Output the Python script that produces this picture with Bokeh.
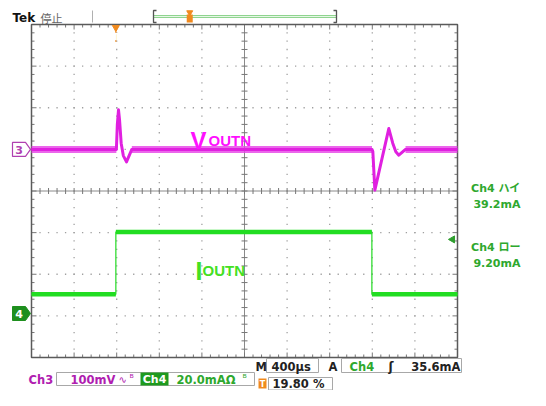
from bokeh.plotting import figure
from bokeh.models import Range1d
from bokeh.core.properties import value
from bokeh.embed import file_html
from bokeh.resources import INLINE

# ---------------- data ----------------
# Ch3 = V_OUTN : time in microseconds relative to trigger, value in mV
ch3_time_us = [-792, 5, 14, 25, 35, 50, 70, 100, 125, 150,
               2405, 2413, 2432, 2500, 2563, 2600, 2629, 2657, 2720, 3208]
ch3_mv = [0, 0, 60, 95, 70, 15, -15, -30, -15, 0,
          0, -5, -98, -21, 50, 15, -6, -14, 0, 0]
# Ch4 = I_OUTN : time in microseconds, value in mA
ch4_time_us = [-792, 0, 0, 2404, 2404, 3208]
ch4_ma = [9.2, 9.2, 39.2, 39.2, 9.2, 9.2]

trigger_level_ma = 35.6
trigger_pos_pct = 19.80

lbl_timebase = "400µs"
lbl_ch3_scale = "100mV"
lbl_ch4_scale = "20.0mA"
lbl_trig = "35.6mA"
lbl_trigpos = "19.80 %"
lbl_ch4_high = ["Ch4 ハイ", "39.2mA"]
lbl_ch4_low = ["Ch4 ロー", "9.20mA"]

# scope settings
T_DIV, T_LEFT = 400.0, -792.0          # µs/div, time at left edge
CH3_DIV, CH3_BOTTOM = 100.0, -500.0    # mV/div, value at bottom edge
CH4_DIV, CH4_BOTTOM = 20.0, -21.14     # mA/div, value at bottom edge

# ---------------- layout (canvas pixels) ----------------
W, H = 530, 390
GX0, GX1, GY0, GY1 = 31, 457, 24, 357
dx = (GX1 - GX0) / 10.0
dy = (GY1 - GY0) / 8.0
cx = (GX0 + GX1) / 2.0
cy = (GY0 + GY1) / 2.0

us_px = T_DIV / dx
mv_px = CH3_DIV / dy
ma_px = CH4_DIV / dy

p = figure(width=W, height=H, x_range=Range1d(0, W), y_range=Range1d(H, 0),
           output_backend="svg", toolbar_location=None,
           x_axis_location=None, y_axis_location=None, min_border=0)
p.outline_line_color = None
p.grid.visible = False
p.background_fill_color = "white"

p.extra_x_ranges = {"t": Range1d(T_LEFT - GX0 * us_px, T_LEFT + (W - GX0) * us_px)}
p.extra_y_ranges = {
    "ch3": Range1d(CH3_BOTTOM - (H - GY1) * mv_px, CH3_BOTTOM + GY1 * mv_px),
    "ch4": Range1d(CH4_BOTTOM - (H - GY1) * ma_px, CH4_BOTTOM + GY1 * ma_px),
}

FONT = value("DejaVu Sans, Noto Sans CJK JP")

# ---------------- graticule ----------------
gx, gy = [], []
for k in range(1, 10):
    if k == 5:
        continue
    for j in range(1, 40):
        gx.append(GX0 + k * dx)
        gy.append(GY0 + j * dy / 5)
for k in range(1, 8):
    if k == 4:
        continue
    for j in range(1, 50):
        gx.append(GX0 + j * dx / 5)
        gy.append(GY0 + k * dy)
p.rect(gx, gy, width=1.3, height=1.3, fill_color="#a0a0a0", line_color=None)

# center cross
p.segment([GX0, cx], [cy, GY0], [GX1, cx], [cy, GY1], line_color="#8a8a8a", line_width=1)
tx0, ty0, tx1, ty1 = [], [], [], []
for j in range(1, 50):
    x = GX0 + j * dx / 5
    L = 5 if j % 5 == 0 else 3
    tx0 += [x]; ty0 += [cy - 3]; tx1 += [x]; ty1 += [cy + 3]
    tx0 += [x, x]; ty0 += [GY0, GY1]; tx1 += [x, x]; ty1 += [GY0 + L, GY1 - L]
for j in range(1, 40):
    y = GY0 + j * dy / 5
    L = 5 if j % 5 == 0 else 3
    tx0 += [cx - 3]; ty0 += [y]; tx1 += [cx + 3]; ty1 += [y]
    tx0 += [GX0, GX1]; ty0 += [y, y]; tx1 += [GX0 + L, GX1 - L]; ty1 += [y, y]
p.segment(tx0, ty0, tx1, ty1, line_color="#777777", line_width=1)
p.quad(left=[GX0], right=[GX1], top=[GY0], bottom=[GY1], fill_color=None,
       line_color="#5a5a5a", line_width=1.5)

# ---------------- traces ----------------
b0x, b0y, b1x, b1y = [], [], [], []
for i in range(len(ch3_mv) - 1):
    if ch3_mv[i] == 0 and ch3_mv[i + 1] == 0:
        b0x.append(ch3_time_us[i]); b0y.append(ch3_mv[i])
        b1x.append(ch3_time_us[i + 1]); b1y.append(ch3_mv[i + 1])
p.segment(b0x, b0y, b1x, b1y, x_range_name="t", y_range_name="ch3",
          line_color="#e640e6", line_width=7, line_alpha=0.8)
p.line(ch3_time_us, ch3_mv, x_range_name="t", y_range_name="ch3",
       line_color="#e020e0", line_width=3, line_join="round")

p.line(ch4_time_us, ch4_ma, x_range_name="t", y_range_name="ch4",
       line_color="#33dd33", line_width=1.3)
p.segment(ch4_time_us[0::2], ch4_ma[0::2], ch4_time_us[1::2], ch4_ma[1::2],
          x_range_name="t", y_range_name="ch4", line_color="#22dd22", line_width=4.5)

# trace labels
p.text([190], [140], text=["V"], text_font=value("Liberation Sans"), text_font_style="bold",
       text_font_size="24px", text_color="#ff10ff", text_baseline="alphabetic")
p.text([208], [140], text=["OUTN"], text_font=value("Liberation Sans"), text_font_style="bold",
       text_font_size="15px", text_color="#ff10ff", text_baseline="alphabetic")
p.text([195], [270], text=["I"], text_font=value("Liberation Sans"), text_font_style="bold",
       text_font_size="25px", text_color="#44e022", text_baseline="alphabetic")
p.text([202], [270], text=["OUTN"], text_font=value("Liberation Sans"), text_font_style="bold",
       text_font_size="15px", text_color="#44e022", text_baseline="alphabetic")

# ---------------- markers ----------------
y3 = GY1 - (0 - CH3_BOTTOM) / mv_px
y4 = GY1 - (0 - CH4_BOTTOM) / ma_px
p.patch([12, 25, 30, 25, 12], [y3 - 7, y3 - 7, y3, y3 + 7, y3 + 7], fill_color="white",
        line_color="#b040b0", line_width=1.2)
p.text([18.5], [y3 + 0.5], text=["3"], text_font=FONT, text_font_style="bold", text_font_size="11px",
       text_color="#b040b0", text_align="center", text_baseline="middle")
p.patch([12, 25, 30, 25, 12], [y4 - 7, y4 - 7, y4, y4 + 7, y4 + 7], fill_color="#1e8f1e",
        line_color="#1e8f1e", line_width=1)
p.text([18.5], [y4 + 0.5], text=["4"], text_font=FONT, text_font_style="bold", text_font_size="11px",
       text_color="white", text_align="center", text_baseline="middle")

p.scatter([GX1 - 5], [trigger_level_ma], y_range_name="ch4", marker="triangle", angle=1.5708,
          size=7, fill_color="#2e9e2e", line_color="#2e9e2e")

p.scatter([0], [GY0 + 3], x_range_name="t", marker="inverted_triangle", size=7,
          fill_color="#f08a1e", line_color="#f08a1e")
p.rect([0], [GY0 + 12], x_range_name="t", width=9, height=11, fill_color="#f08a1e", line_color=None)
p.text([0], [GY0 + 12.5], x_range_name="t", text=["T"], text_font=FONT, text_font_style="bold",
       text_font_size="9px", text_color="white", text_align="center", text_baseline="middle")

# ---------------- top status bar ----------------
p.text([12], [17], text=["Tek"], text_font=value("DejaVu Sans"), text_font_style="bold",
       text_font_size="12px", text_color="#111111", text_baseline="middle")
p.text([40], [17], text=["停止"], text_font=value("Noto Sans CJK JP"),
       text_font_size="11px", text_color="#666666", text_baseline="middle")
p.segment([92, 398], [10], [92, 398], [22], line_color="#b0b0b0", line_width=1)
BL, BR = 153, 336
p.segment([BL], [16], [BR], [16], line_color="#8fd48f", line_width=3)
p.segment([BL], [16], [BR], [16], line_color="#e6f7e6", line_width=1)
p.multi_line([[BL + 3, BL, BL, BL + 3], [BR - 3, BR, BR, BR - 3]],
             [[10, 10, 22, 22], [10, 10, 22, 22]], line_color="#555555", line_width=1.3)
tpx = BL + trigger_pos_pct / 100 * (BR - BL)
p.scatter([tpx], [12], marker="inverted_triangle", size=6, fill_color="#f08a1e", line_color="#f08a1e")
p.rect([tpx], [18], width=6, height=8, fill_color="#f08a1e", line_color=None)

# ---------------- right readouts ----------------
p.text([520, 520], [188, 204], text=lbl_ch4_high, text_font=FONT, text_font_style="bold",
       text_font_size="11px", text_color="#2ea82e", text_align="right", text_baseline="middle")
p.text([520, 520], [247, 263], text=lbl_ch4_low, text_font=FONT, text_font_style="bold",
       text_font_size="11px", text_color="#2ea82e", text_align="right", text_baseline="middle")

# ---------------- bottom readouts ----------------
BOXC = "#a8a8a8"
r1, r2, r3 = 366, 379, 383
# row 1
p.quad(left=[266, 341], right=[318, 461], top=[r1 - 8, r1 - 8], bottom=[r1 + 6, r1 + 6],
       fill_color="white", line_color=BOXC, line_width=1)
p.text([255, 271, 328], [r1, r1, r1], text=["M", lbl_timebase, "A"], text_font=FONT,
       text_font_style="bold", text_font_size="11.5px", text_color="#222222", text_baseline="middle")
p.text([349], [r1], text=["Ch4"], text_font=FONT, text_font_style="bold", text_font_size="11.5px",
       text_color="#2ea82e", text_baseline="middle")
p.text([388], [r1], text=["ʃ"], text_font=FONT, text_font_style="bold", text_font_size="12px",
       text_color="#222222", text_baseline="middle")
p.text([460], [r1], text=[lbl_trig], text_font=FONT, text_font_style="bold", text_font_size="11.5px",
       text_color="#222222", text_align="right", text_baseline="middle")
# row 2
p.text([28], [r2], text=["Ch3"], text_font=FONT, text_font_style="bold", text_font_size="11.5px",
       text_color="#b020b0", text_baseline="middle")
p.quad(left=[56], right=[254], top=[r2 - 7], bottom=[r2 + 6], fill_color="white",
       line_color=BOXC, line_width=1)
p.text([70], [r2], text=[lbl_ch3_scale], text_font=FONT, text_font_style="bold", text_font_size="11.5px",
       text_color="#b020b0", text_baseline="middle")
p.text([118, 129], [r2, r2 - 1], text=["∿", "ᴮ"], text_font=FONT, text_font_size="10px",
       text_color="#b020b0", text_baseline="middle")
p.quad(left=[140], right=[168], top=[r2 - 7], bottom=[r2 + 6], fill_color="#1e9a1e", line_color=None)
p.text([154], [r2], text=["Ch4"], text_font=FONT, text_font_style="bold", text_font_size="11px",
       text_color="white", text_align="center", text_baseline="middle")
p.text([176], [r2], text=[lbl_ch4_scale + "Ω"], text_font=FONT, text_font_style="bold",
       text_font_size="11.5px", text_color="#2ea82e", text_baseline="middle")
p.text([242], [r2 - 1], text=["ᴮ"], text_font=FONT, text_font_size="10px",
       text_color="#2ea82e", text_baseline="middle")
# row 3 (the bottom edge of the canvas limits how low it can sit)
p.rect([262], [r3], width=8, height=10, fill_color="#f08a1e", line_color=None)
p.text([262], [r3 + 0.5], text=["T"], text_font=FONT, text_font_style="bold", text_font_size="8px",
       text_color="white", text_align="center", text_baseline="middle")
p.quad(left=[268], right=[332], top=[r3 - 6], bottom=[r3 + 6.5], fill_color="white",
       line_color=BOXC, line_width=1)
p.text([272], [r3], text=[lbl_trigpos], text_font=FONT, text_font_style="bold", text_font_size="11.5px",
       text_color="#222222", text_baseline="middle")

open("out.html", "w").write(file_html(p, INLINE))
